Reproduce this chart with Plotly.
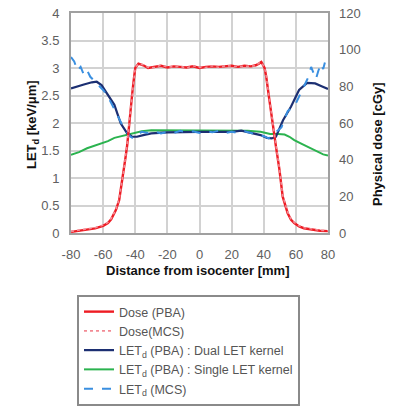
import plotly.graph_objects as go

# ---- data ----
# Dose (PBA) [cGy]
dose_pba_x = [-80, -75, -70, -65, -60, -57, -55, -52, -50, -49, -48, -47, -46, -45, -44, -43, -42, -41, -40, -38,
              -35, -32, -28, -24, -20, -16, -12, -8, -4, 0, 4, 8, 12, 16, 20, 24, 28, 32, 35, 37, 38.5,
              40.5, 41.5, 43.5, 45.6, 47.6, 49.7, 51.8, 54.9, 57, 59, 62, 65, 70, 75, 80]
dose_pba_y = [0.6, 1.2, 1.8, 2.5, 3.9, 5.4, 7.5, 12.6, 18.0, 23.4, 29.0, 35.0, 41.5, 48.0, 58.0, 66.0, 75.0, 83.0, 90.0, 92.4,
              91.5, 90.0, 90.6, 91.2, 90.3, 90.9, 90.6, 90.3, 90.9, 90.0, 90.6, 90.9, 90.6, 90.9, 91.2, 90.6, 91.2, 90.9, 91.5, 92.4, 93.3,
              90.0, 85.5, 72.6, 57.9, 47.1, 35.0, 19.8, 10.8, 7.2, 5.4, 3.6, 2.6, 1.8, 1.2, 1.0]

# Dose (MCS) [cGy]
dose_mcs_x = [-80, -75, -70, -65, -60, -57, -55, -52, -50, -49, -48, -47, -46, -45, -44, -43, -42, -41, -40, -38,
              -35, -32, -28, -24, -20, -16, -12, -8, -4, 0, 4, 8, 12, 16, 20, 24, 28, 32, 35, 37, 38.5,
              40.5, 41.5, 43.5, 45.6, 47.6, 49.7, 51.8, 54.9, 57, 59, 62, 65, 70, 75, 80]
dose_mcs_y = [0.9, 1.5, 2.1, 2.9, 4.3, 5.8, 7.9, 12.9, 18.6, 23.8, 29.6, 35.5, 42.0, 48.5, 58.5, 66.5, 75.6, 83.4, 90.3, 92.1,
              91.8, 90.3, 90.3, 91.5, 90.6, 90.6, 90.9, 90.0, 91.2, 90.3, 90.3, 91.2, 90.3, 91.2, 90.9, 90.9, 90.9, 91.2, 91.2, 92.7, 93.0,
              90.3, 85.8, 73.2, 58.5, 47.7, 35.6, 20.4, 11.4, 7.6, 5.8, 3.9, 2.9, 2.1, 1.5, 1.2]

# LETd (PBA) : Dual LET kernel [keV/um]
let_dual_x = [-80, -77, -72, -67, -64, -61, -57, -53, -49, -45, -42, -39, -35, -30, -20, -10, 0, 10, 20, 26, 32,
              38, 42, 45, 47.6, 52, 57, 62, 67, 72, 76, 80]
let_dual_y = [2.63, 2.66, 2.70, 2.74, 2.75, 2.69, 2.52, 2.33, 1.99, 1.81, 1.75, 1.75, 1.78, 1.81, 1.83, 1.84, 1.84, 1.84, 1.84, 1.86, 1.82,
              1.78, 1.73, 1.72, 1.75, 2.05, 2.30, 2.60, 2.73, 2.72, 2.67, 2.62]

# LETd (PBA) : Single LET kernel [keV/um]
let_single_x = [-80, -75, -70, -65, -61, -57, -53, -49, -45, -41, -36, -30, -20, -10, 0, 10, 20, 30, 38, 44,
                49, 53, 56, 59, 63, 67, 70, 74, 77, 80]
let_single_y = [1.42, 1.47, 1.54, 1.59, 1.63, 1.67, 1.73, 1.76, 1.78, 1.81, 1.85, 1.87, 1.87, 1.86, 1.86, 1.86, 1.87, 1.86, 1.84, 1.80,
                1.80, 1.79, 1.75, 1.69, 1.63, 1.57, 1.52, 1.47, 1.43, 1.41]

# LETd (MCS) [keV/um]
let_mcs_x = [-80, -78, -76, -74, -72, -70, -68, -66, -63, -60, -57, -54, -51, -48, -45, -43, -41, -39, -36, -32,
             -28, -24, -20, -16, -12, -8, -4, 0, 4, 8, 12, 16, 20, 24, 28, 32, 36, 40, 43, 46, 48.5,
             51, 55, 59, 63, 66, 68, 69.5, 71, 72.5, 74, 75.7, 77, 78.5, 80]
let_mcs_y = [3.20, 3.12, 2.95, 3.02, 2.88, 2.96, 2.84, 2.78, 2.70, 2.60, 2.48, 2.30, 2.12, 1.96, 1.83, 1.75, 1.72, 1.78, 1.84, 1.82,
             1.85, 1.81, 1.84, 1.82, 1.86, 1.83, 1.85, 1.82, 1.85, 1.83, 1.86, 1.82, 1.84, 1.82, 1.85, 1.82, 1.80, 1.76, 1.72, 1.80, 1.87,
             1.92, 2.22, 2.30, 2.54, 2.72, 2.85, 3.02, 2.90, 2.80, 2.95, 3.08, 2.98, 3.15, 3.25]

x_ticks = [-80, -60, -40, -20, 0, 20, 40, 60, 80]
x_tick_text = ["-80", "-60", "-40", "-20", "0", "20", "40", "60", "80"]
let_ticks = [0, 0.5, 1, 1.5, 2, 2.5, 3, 3.5, 4]
let_tick_text = ["0", "0.5", "1", "1.5", "2", "2.5", "3", "3.5", "4"]
dose_ticks = [0, 20, 40, 60, 80, 100, 120]

x_title = "<b>Distance from isocenter [mm]</b>"
let_title = "<b>LET<sub>d</sub> [keV/μm]</b>"
dose_title = "<b>Physical dose [cGy]</b>"

FONT = "Liberation Sans, Arial, sans-serif"
W, H = 394, 408

fig = go.Figure()

fig.add_trace(go.Scatter(x=let_single_x, y=let_single_y, mode="lines", name="LET<sub>d</sub> (PBA) : Single LET kernel",
                         line=dict(color="#2bb34f", width=2), yaxis="y", legendrank=4))
fig.add_trace(go.Scatter(x=let_dual_x, y=let_dual_y, mode="lines", name="LET<sub>d</sub> (PBA) : Dual LET kernel",
                         line=dict(color="#1c2f72", width=2.2), yaxis="y", legendrank=3))
fig.add_trace(go.Scatter(x=let_mcs_x, y=let_mcs_y, mode="lines", name="LET<sub>d</sub> (MCS)",
                         line=dict(color="#3a8fe0", width=2, dash="dash"), yaxis="y", legendrank=5))
fig.add_trace(go.Scatter(x=dose_pba_x, y=dose_pba_y, mode="lines", name="Dose (PBA)",
                         line=dict(color="#ee1c24", width=2.4), yaxis="y2", legendrank=1))
fig.add_trace(go.Scatter(x=dose_mcs_x, y=dose_mcs_y, mode="lines", name="Dose(MCS)",
                         line=dict(color="#f28a94", width=1.6, dash="dot"), yaxis="y2", legendrank=2))

tick_font = dict(family=FONT, size=13, color="#606060")
title_font = dict(family=FONT, size=13, color="#111111")

x_dom = [71 / W, 328 / W]
y_dom = [1 - 233 / H, 1 - 13 / H]

fig.update_layout(
    width=W, height=H,
    margin=dict(l=0, r=0, t=0, b=0, autoexpand=False),
    paper_bgcolor="white", plot_bgcolor="white",
    font=dict(family=FONT),
    xaxis=dict(domain=x_dom, range=[-80, 80], tickvals=x_ticks, ticktext=x_tick_text, showgrid=True,
               gridcolor="#d2d2d2", gridwidth=1.5, zeroline=False, showline=True, linecolor="#a0a0a0",
               linewidth=2, mirror=True, tickfont=tick_font, ticks="", ticklabelstandoff=8, automargin=False),
    yaxis=dict(domain=y_dom, range=[0, 4], tickvals=let_ticks, ticktext=let_tick_text, showgrid=True,
               gridcolor="#d2d2d2", gridwidth=1.5, zeroline=False, showline=True, linecolor="#a0a0a0",
               linewidth=2, mirror=True, tickfont=tick_font, ticks="", ticklabelstandoff=7, automargin=False),
    yaxis2=dict(range=[0, 120], tickvals=dose_ticks, overlaying="y", side="right", showgrid=False,
                zeroline=False, showline=False, tickfont=tick_font, ticks="", ticklabelstandoff=10,
                automargin=False),
    showlegend=True,
    legend=dict(x=77 / W, y=1 - 406 / H, xanchor="left", yanchor="bottom",
                bgcolor="white", bordercolor="#8a8a8a", borderwidth=2,
                font=dict(family=FONT, size=12.5, color="#555555"),
                itemwidth=30, tracegroupgap=0, traceorder="normal"),
    annotations=[
        dict(text=x_title, xref="paper", yref="paper", x=198 / W, y=1 - 270 / H, showarrow=False,
             xanchor="center", yanchor="middle", font=title_font),
        dict(text=let_title, xref="paper", yref="paper", x=32 / W, y=1 - 124 / H, showarrow=False, textangle=-90,
             xanchor="center", yanchor="middle", font=title_font),
        dict(text=dose_title, xref="paper", yref="paper", x=377 / W, y=1 - 144 / H, showarrow=False, textangle=-90,
             xanchor="center", yanchor="middle", font=title_font),
    ],
)

fig.write_html("out.html", config={"displayModeBar": False},
               post_script="document.body.style.margin='0';")
